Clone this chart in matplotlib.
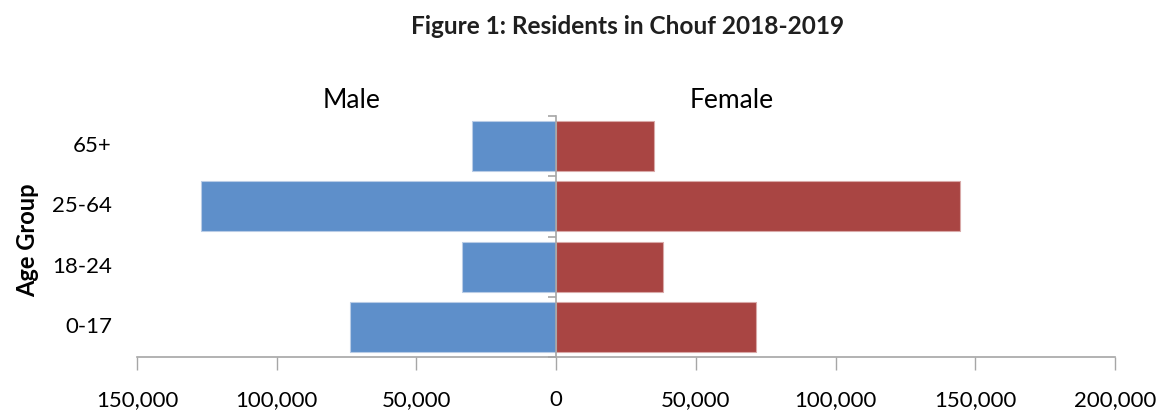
import matplotlib
matplotlib.use("Agg")
import matplotlib.pyplot as plt
from matplotlib.ticker import FuncFormatter
import matplotlib.transforms as mtransforms

plt.rcParams['font.family'] = ['Lato', 'DejaVu Sans']

categories = ["0-17", "18-24", "25-64", "65+"]
male = [73800, 33800, 127000, 30000]
female = [71500, 38100, 144400, 35000]
xticks = [-150000, -100000, -50000, 0, 50000, 100000, 150000, 200000]

blue = "#5E8FCA"
red = "#A94543"
grey = "#A6A6A6"

fig = plt.figure(figsize=(11.61, 4.11), dpi=100)
ax = fig.add_axes([137/1161, (411-357)/411, (1115-137)/1161, (357-116)/411])

y = list(range(len(categories)))
ax.barh(y, [-m for m in male], height=0.83, color=blue, edgecolor="#B9CCE6", linewidth=0.8)
ax.barh(y, female, height=0.83, color=red, edgecolor="#D9A9A8", linewidth=0.8)

ax.set_xlim(-150000, 200000)
ax.set_ylim(-0.5, len(categories) - 0.5)
ax.set_xticks(xticks)
ax.xaxis.set_major_formatter(FuncFormatter(lambda v, p: f"{abs(int(v)):,}"))
ax.tick_params(axis='x', direction='out', length=9.5, width=1, color=grey,
               labelsize=16, pad=14, labelcolor='black')

for s in ['top', 'right']:
    ax.spines[s].set_visible(False)
ax.spines['bottom'].set_color(grey)
ax.spines['bottom'].set_linewidth(1.2)
ax.spines['left'].set_position(('data', 0))
ax.spines['left'].set_color(grey)
ax.spines['left'].set_linewidth(1.2)
ax.set_yticks([i - 0.5 for i in range(len(categories) + 1)])
ax.set_yticklabels([])
ax.tick_params(axis='y', direction='out', length=6, width=1.2, color=grey)

trans = mtransforms.blended_transform_factory(fig.transFigure, ax.transData)
for i, c in enumerate(categories):
    ax.text(112/1161, i, c, transform=trans, ha='right', va='center', fontsize=16)

fig.text(28/1161, (411-240)/411, "Age Group", rotation=90, ha='center', va='center',
         fontsize=17, fontweight='bold')

ax.text(0.219, 1.066, "Male", transform=ax.transAxes, ha='center', va='center', fontsize=19)
ax.text(0.608, 1.066, "Female", transform=ax.transAxes, ha='center', va='center', fontsize=19)

fig.text(628/1161, (411-27)/411, "Figure 1: Residents in Chouf 2018-2019", ha='center',
         va='center', fontsize=17.6, fontweight='bold', color='#1F1F1F')

fig.savefig("out.png", dpi=100)
